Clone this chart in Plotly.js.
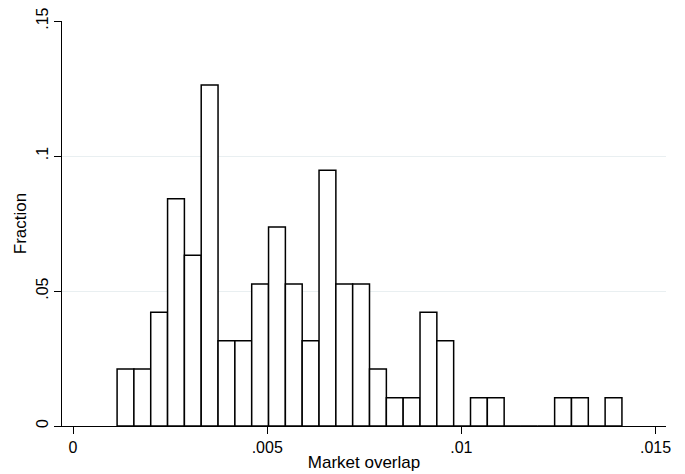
<!DOCTYPE html>
<html>
<head>
<meta charset="utf-8">
<script src="https://cdn.plot.ly/plotly-3.0.1.min.js"></script>
<style>
html,body{margin:0;padding:0;background:#fff;}
#chart{width:685px;height:474px;}
</style>
</head>
<body>
<div id="chart"></div>
<script>
// Bin centers (market overlap) and fraction of observations per bin
var binCenters = [0.001351,0.001784,0.002217,0.002651,0.003084,0.003517,0.003951,0.004384,0.004817,0.005251,
                  0.005684,0.006117,0.006551,0.006984,0.007417,0.007851,0.008284,0.008717,0.009151,0.009584,
                  0.010017,0.010451,0.010884,0.011317,0.011751,0.012184,0.012617,0.013051,0.013484,0.013917];
var binWidth = 0.0004333;
var fraction = [0.0211,0.0211,0.0421,0.0842,0.0632,0.1263,0.0316,0.0316,0.0526,0.0737,
                0.0526,0.0316,0.0947,0.0526,0.0526,0.0211,0.0105,0.0105,0.0421,0.0316,
                0,0.0105,0.0105,0,0,0,0.0105,0.0105,0,0.0105];
var xTickVals = [0,0.005,0.01,0.015];
var xTickText = ['0','.005','.01','.015'];
var yTickVals = [0,0.05,0.1,0.15];
var yTickText = ['0','.05','.1','.15'];

var trace = {
  type:'bar',
  x: binCenters,
  y: fraction,
  width: binCenters.map(function(){return binWidth;}),
  marker:{color:'#ffffff', line:{color:'#000000', width:1.5}},
  hoverinfo:'x+y'
};

var fam = '"Liberation Sans", Arial, Helvetica, sans-serif';
var tickFont = {family:fam, size:16, color:'#000'};
var titleFont = {family:fam, size:17, color:'#000'};

var layout = {
  width:685, height:474,
  margin:{l:62, r:19, t:21, b:48, pad:0},
  paper_bgcolor:'#ffffff', plot_bgcolor:'#ffffff',
  showlegend:false,
  bargap:0,
  font: tickFont,
  xaxis:{
    range:[-0.000284, 0.015268],
    tickvals:xTickVals, ticktext:xTickText,
    ticks:'outside', ticklen:7, tickwidth:1, tickcolor:'#000',
    showline:true, linecolor:'#000', linewidth:1,
    showgrid:false, zeroline:false,
    tickfont:tickFont,
    title:{text:'Market overlap', font:titleFont, standoff:0},
    automargin:false
  },
  yaxis:{
    range:[0,0.15],
    tickvals:yTickVals, ticktext:yTickText,
    tickangle:-90,
    ticks:'outside', ticklen:7, tickwidth:1, tickcolor:'#000',
    showline:true, linecolor:'#000', linewidth:1,
    showgrid:true, gridcolor:'#e9eff1', gridwidth:1,
    zeroline:false,
    tickfont:tickFont,
    title:{text:'Fraction', font:titleFont, standoff:2},
    automargin:false
  }
};

Plotly.newPlot('chart',[trace],layout,{displayModeBar:false, staticPlot:true});
</script>
</body>
</html>
